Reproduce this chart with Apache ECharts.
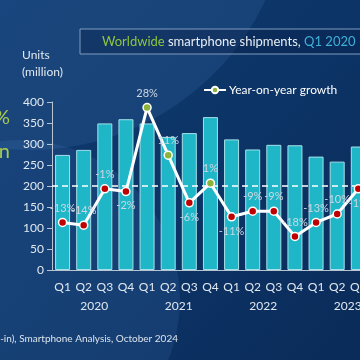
<!DOCTYPE html>
<html>
<head>
<meta charset="utf-8">
<script src="https://cdn.jsdelivr.net/npm/echarts@6/dist/echarts.min.js"></script>
<style>
html,body{margin:0;padding:0;background:#0c3163;overflow:hidden;width:360px;height:360px;}
#chart{width:400px;height:360px;}
</style>
</head>
<body>
<div id="chart"></div>
<script>
// ---- data ----
const categories = [
  '2020 Q1','2020 Q2','2020 Q3','2020 Q4',
  '2021 Q1','2021 Q2','2021 Q3','2021 Q4',
  '2022 Q1','2022 Q2','2022 Q3','2022 Q4',
  '2023 Q1','2023 Q2','2023 Q3','2023 Q4'
];
const years = ['2020','2021','2022','2023'];
const shipments = [274,286,349,359, 349,317,326,364, 311,287,298,297, 270,258,294,null];
const growth = [-13,-14,-1,-2, 28,11,-6,1, -11,-9,-9,-18, -13,-10,-1,null];
const yTicks = [0,50,100,150,200,250,300,350,400];

// ---- styling helpers ----
const growthLabelPos = ['top','top','top','bottom','top','top','bottom','top','bottom','top','top','top','top','top','bottom','top'];
const POS = '#8db33a', NEG = '#c00000';

const chart = echarts.init(document.getElementById('chart'), null, {renderer:'canvas'});
const growthData = growth.map((v,i)=> v===null ? null : ({
  value: v,
  itemStyle: {color: v >= 0 ? POS : NEG},
  label: {position: growthLabelPos[i]}
}));

chart.setOption({
  backgroundColor: {
    type:'linear', x:0, y:0, x2:1, y2:1,
    colorStops:[{offset:0, color:'#0f3a70'},{offset:0.5, color:'#0c3466'},{offset:1, color:'#0a2a58'}]
  },
  animation: false,
  graphic: [
    {type:'circle', shape:{cx:30, cy:-110, r:260}, style:{fill:'rgba(90,150,215,0.14)'}, z:-10, silent:true},
    {type:'circle', shape:{cx:20, cy:300, r:160}, style:{fill:'rgba(90,150,215,0.13)'}, z:-10, silent:true},
    {type:'rect', shape:{x:80, y:29, width:320, height:25}, style:{fill:'rgba(8,30,70,0.35)', stroke:'#7f9cc0', lineWidth:1}, z:1},
    {type:'text', x:102, y:42, z:2, style:{
      text:'{g|Worldwide} smartphone shipments, {b|Q1 2020 – Q3 2024}',
      fill:'#e8eef5', font:'13px Lato', verticalAlign:'middle',
      rich:{g:{fill:'#8dc63f', font:'13px Lato'}, b:{fill:'#3fb0d8', font:'13px Lato'}}
    }},
    {type:'text', x:22, y:64, z:2, style:{text:'Units\n(million)', fill:'#e0e7ef', font:'12px Lato', lineHeight:17, verticalAlign:'middle'}},
    {type:'text', x:10, y:118, z:2, style:{text:'10%', fill:'#a8c850', font:'20px Lato', align:'right', verticalAlign:'middle'}},
    {type:'text', x:10, y:152, z:2, style:{text:'1.2 billion', fill:'#a8c850', font:'20px Lato', align:'right', verticalAlign:'middle'}},
    {type:'text', x:178, y:339, z:2, style:{text:'Source: Canalys estimates (sell-in), Smartphone Analysis, October 2024', fill:'#dbe3ec', font:'10px "Liberation Sans Narrow", Lato', align:'right', verticalAlign:'middle'}}
  ],
  legend: {
    data: ['Year-on-year growth'],
    left: 198, top: 79,
    itemWidth: 22, itemHeight: 8, itemGap: 4,
    textStyle: {color:'#ffffff', fontSize: 12, fontFamily:'Lato', padding:[0,0,0,-2]}
  },
  grid: {left: 52, right: 10, top: 102, bottom: 90, containLabel: false},
  xAxis: [
    {
      type:'category', data: categories, position:'bottom',
      axisLine:{lineStyle:{color:'#b8c4d0', width:1}},
      axisTick:{show:false},
      axisLabel:{interval:0, color:'#e0e7ef', fontSize:12, fontFamily:'Lato', margin:11, formatter: v => v.split(' ')[1]}
    },
    {
      type:'category', data: years, position:'bottom', gridIndex:0,
      axisLine:{show:false}, axisTick:{show:false},
      axisLabel:{interval:0, color:'#e0e7ef', fontSize:12, fontFamily:'Lato', margin:30}
    }
  ],
  yAxis: [
    {
      type:'value', min: yTicks[0], max: yTicks[yTicks.length-1], interval: 50,
      axisLine:{show:true, lineStyle:{color:'#b8c4d0', width:1}},
      axisTick:{show:true, length:5, lineStyle:{color:'#b8c4d0'}},
      axisLabel:{color:'#e0e7ef', fontSize:12, fontFamily:'Lato', margin:8},
      splitLine:{show:false}
    },
    {
      type:'value', min:-30, max:30, show:false, splitLine:{show:false}
    }
  ],
  series: [
    {
      type:'bar', name:'Units', data: shipments, xAxisIndex:0, yAxisIndex:0,
      barWidth: 15,
      itemStyle:{color:'#1fb7c8', borderColor:'#a6e0e8', borderWidth:1},
      markLine:{
        silent:true, symbol:'none', label:{show:false},
        lineStyle:{color:'#ffffff', type:[6,4], width:1.5},
        data:[{yAxis:200}]
      }
    },
    {
      type:'line', name:'Year-on-year growth', data: growthData, xAxisIndex:0, yAxisIndex:1,
      symbol:'circle', symbolSize:8,
      lineStyle:{color:'#ffffff', width:3},
      itemStyle:{color:POS, borderColor:'#ffffff', borderWidth:1.5},
      label:{show:true, formatter: p => p.value + '%', color:'#cdd7e2', fontSize:11, fontFamily:'Lato', distance:4},
      z:5
    }
  ]
});
</script>
</body>
</html>
